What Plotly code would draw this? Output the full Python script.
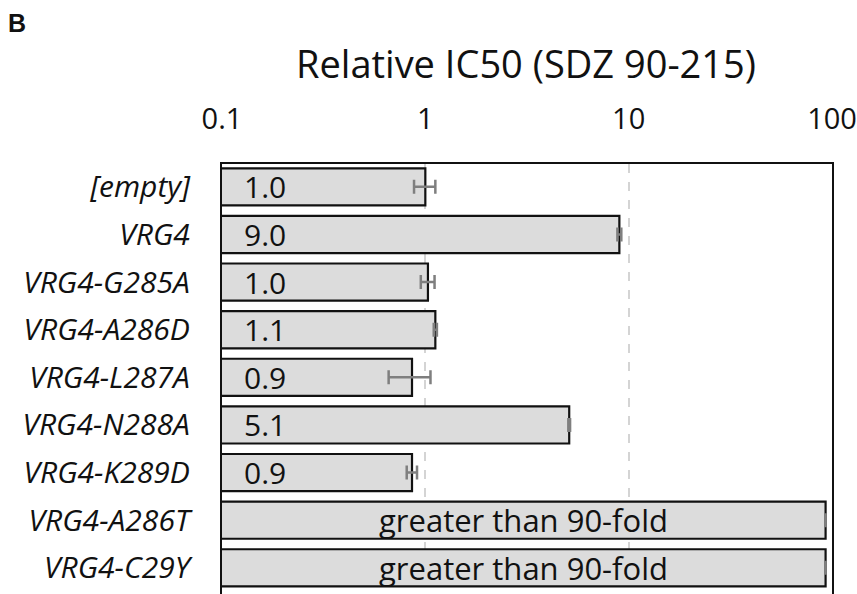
import math
import plotly.graph_objects as go

categories = ["[empty]", "VRG4", "VRG4-G285A", "VRG4-A286D", "VRG4-L287A",
              "VRG4-N288A", "VRG4-K289D", "VRG4-A286T", "VRG4-C29Y"]
values = [1.0, 9.0, 1.03, 1.12, 0.86, 5.1, 0.86, 93, 93]
errors = [0.12, 0.2, 0.08, 0.02, 0.2, 0.05, 0.05, 0, 0]
labels = ["1.0", "9.0", "1.0", "1.1", "0.9", "5.1", "0.9",
          "greater than 90-fold", "greater than 90-fold"]
label_centered = [False] * 7 + [True, True]
tick_vals = [0.1, 1, 10, 100]
tick_text = ["0.1", "1", "10", "100"]

FONT = "Open Sans"
ypos = list(range(len(categories)))

fig = go.Figure()
fig.add_trace(go.Bar(
    y=ypos, x=values, orientation="h", width=0.78,
    marker=dict(color="#dcdcdc", line=dict(color="#111111", width=2.2)),
    error_x=dict(type="data", array=errors, visible=True,
                 color="#7f7f7f", thickness=2.5, width=7),
    hoverinfo="skip",
))

annotations = []
lo = math.log10(tick_vals[0])
for i, (lab, c) in enumerate(zip(labels, label_centered)):
    if c:
        annotations.append(dict(x=(lo + math.log10(values[i])) / 2, y=i, text=lab,
                                xref="x", yref="y", showarrow=False, xanchor="center",
                                font=dict(family=FONT, size=31, color="#111111")))
    else:
        annotations.append(dict(x=lo, y=i, text=lab, xref="x", yref="y",
                                showarrow=False, xanchor="left", xshift=20,
                                font=dict(family=FONT, size=30, color="#111111")))

annotations.append(dict(text="Relative IC50 (SDZ 90-215)", x=0.5, y=1, xref="paper", yref="paper",
                        yanchor="middle", yshift=101, showarrow=False, xshift=-1,
                        font=dict(family=FONT, size=38, color="#111111")))
annotations.append(dict(text="<b>B</b>", x=0, y=1, xref="paper", yref="paper",
                        xanchor="left", yanchor="top", xshift=-216, yshift=157,
                        showarrow=False,
                        font=dict(family="Liberation Sans", size=25, color="#111111")))

fig.update_layout(
    width=857, height=594,
    margin=dict(l=222, r=25, t=164, b=0, autoexpand=False),
    plot_bgcolor="white", paper_bgcolor="white",
    showlegend=False,
    annotations=annotations,
)
fig.update_xaxes(
    type="log", range=[-1, 2], side="top",
    tickvals=tick_vals, ticktext=tick_text,
    tickfont=dict(family=FONT, size=29, color="#111111"),
    ticks="", ticklabelstandoff=21, automargin=False, ticklabeloverflow="allow",
    showline=True, linecolor="#111111", linewidth=2.2,
    showgrid=True, gridcolor="#d4d4d4", griddash="dash", gridwidth=2,
    zeroline=False,
)
fig.update_yaxes(
    range=[8.55, -0.48],
    tickvals=ypos, ticktext=[f"<i>{c}</i>" for c in categories],
    tickfont=dict(family=FONT, size=30, color="#111111"),
    ticks="", ticklabelstandoff=24, automargin=False,
    showline=True, mirror=True, linecolor="#111111", linewidth=2.2,
    showgrid=False, zeroline=False,
)

fig.write_html("out.html", config={"displayModeBar": False},
               post_script="document.body.style.margin='0';document.body.style.overflow='hidden';")
